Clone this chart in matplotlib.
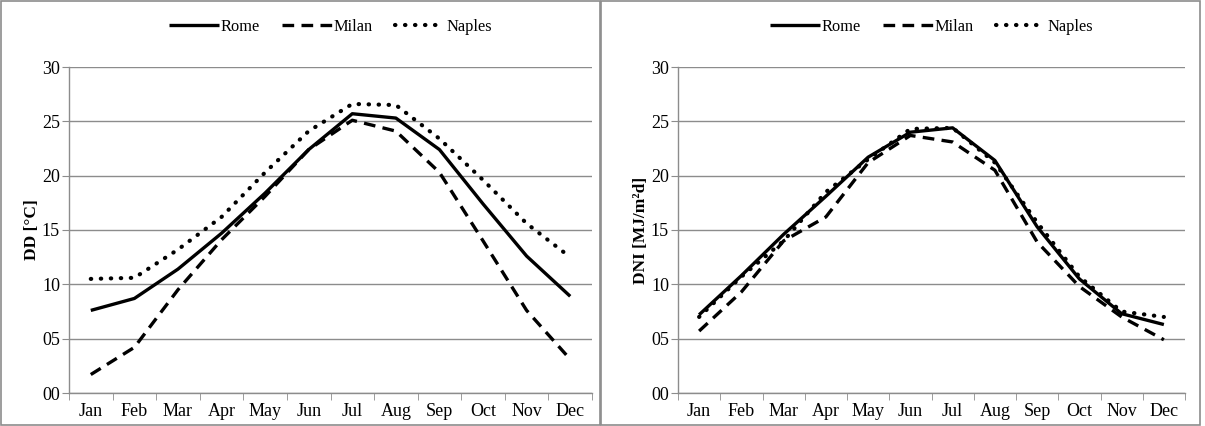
import numpy as np
import matplotlib.pyplot as plt
from matplotlib.patches import Rectangle

months = ['Jan', 'Feb', 'Mar', 'Apr', 'May', 'Jun', 'Jul', 'Aug', 'Sep', 'Oct', 'Nov', 'Dec']
yticks = [0, 5, 10, 15, 20, 25, 30]

# DD [°C]
dd_rome = [7.6, 8.7, 11.4, 14.7, 18.4, 22.4, 25.7, 25.3, 22.4, 17.4, 12.6, 8.9]
dd_milan = [1.7, 4.2, 9.5, 14.1, 18.1, 22.4, 25.1, 24.1, 20.3, 14.0, 7.6, 3.1]
dd_naples = [10.5, 10.6, 13.2, 16.2, 20.3, 24.1, 26.6, 26.5, 23.4, 19.6, 15.6, 12.5]

# DNI [MJ/m²d]
dni_rome = [7.2, 10.8, 14.6, 18.1, 21.7, 24.0, 24.4, 21.4, 15.3, 10.5, 7.3, 6.3]
dni_milan = [5.7, 9.3, 14.0, 16.2, 21.2, 23.7, 23.1, 20.5, 13.9, 9.8, 7.0, 4.9]
dni_naples = [7.0, 10.7, 14.0, 18.5, 21.5, 24.3, 24.4, 21.2, 15.7, 10.7, 7.5, 7.0]

plt.rcParams['font.family'] = ['Liberation Serif', 'DejaVu Serif']

fig = plt.figure(figsize=(12.05, 4.26), dpi=100)

# panel borders
for x0 in [0.0, 600 / 1205]:
    fig.add_artist(Rectangle((x0 + 0.001, 0.002), 0.497, 0.995, transform=fig.transFigure,
                             fill=False, edgecolor='#8c8c8c', linewidth=1.2))

panels = [
    ([69 / 1205, 33 / 426, 523 / 1205, 326 / 426], dd_rome, dd_milan, dd_naples, 'DD [°C]'),
    ([678 / 1205, 33 / 426, 507 / 1205, 326 / 426], dni_rome, dni_milan, dni_naples, 'DNI [MJ/m²d]'),
]

x = np.arange(len(months))
for rect, rome, milan, naples, ylab in panels:
    ax = fig.add_axes(rect)
    ax.plot(x, rome, color='black', lw=2.4, ls='-', label='Rome', solid_capstyle='butt')
    ax.plot(x, milan, color='black', lw=2.4, ls=(0, (3.5, 2.2)), label='Milan')
    ax.plot(x, naples, color='black', lw=3.0, ls=(0, (0.1, 2.3)), dash_capstyle='round', label='Naples')

    ax.set_xlim(-0.5, 11.5)
    ax.set_ylim(0, 30)
    ax.set_yticks(yticks)
    ax.set_yticklabels(['%02d' % v for v in yticks], fontsize=13)
    ax.set_xticks(x)
    ax.set_xticklabels(months, fontsize=13)
    ax.set_xticks(np.arange(-0.5, 12, 1), minor=True)
    ax.tick_params(axis='x', which='major', length=0, pad=7)
    ax.tick_params(axis='x', which='minor', length=5, color='#8c8c8c')
    ax.tick_params(axis='y', length=5, color='#8c8c8c', pad=1.5)
    ax.grid(axis='y', color='#8c8c8c', lw=1.0)
    ax.set_axisbelow(True)
    for s in ['top', 'right']:
        ax.spines[s].set_visible(False)
    for s in ['left', 'bottom']:
        ax.spines[s].set_color('#8c8c8c')
        ax.spines[s].set_linewidth(1.0)
    ax.set_ylabel(ylab, fontsize=12.5, fontweight='bold', labelpad=1)
    ax.legend(loc='center', bbox_to_anchor=(0.5, 1.123), ncol=3, frameon=False,
              fontsize=11.8, handlelength=3.0, handletextpad=0.1, columnspacing=1.4,
              borderaxespad=0)

fig.savefig('out.png', dpi=100)
